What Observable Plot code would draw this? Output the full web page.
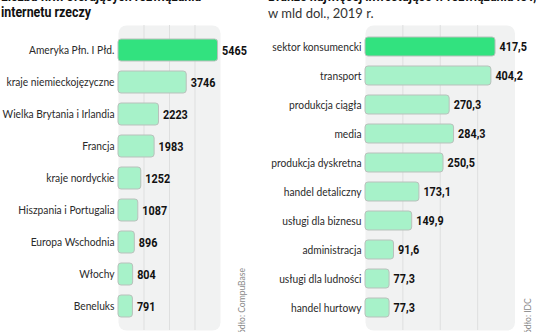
<!DOCTYPE html>
<html><head><meta charset="utf-8">
<script src="https://cdn.jsdelivr.net/npm/d3@7"></script>
<script src="https://cdn.jsdelivr.net/npm/@observablehq/plot@0.6"></script>
<style>
html,body{margin:0;padding:0;background:#fff;}
#wrap{position:relative;width:536px;height:332px;overflow:hidden;background:#fff;}
.t{position:absolute;white-space:nowrap;color:#111;}
.bold{font-family:Roboto,sans-serif;font-weight:bold;font-size:15.5px;line-height:16px;transform-origin:0 0;transform:scaleX(0.8);}
.sub{font-family:Lato,sans-serif;font-size:13px;color:#333;}
.src{position:absolute;font-family:Lato,sans-serif;font-size:8.5px;color:#8a8a8a;transform-origin:0 0;transform:rotate(-90deg);white-space:nowrap;}
.p{position:absolute;top:0;}
</style></head>
<body><div id="wrap">
<div class="t bold" style="left:1px;top:-12px;">Liczba firm oferujących rozwiązania<br>internetu rzeczy</div>
<div class="t bold" style="left:268px;top:-12px;">Branże najwięcej inwestujące w rozwiązania IoT,</div>
<div class="t sub" style="left:268px;top:5px;">w mld dol., 2019 r.</div>
<div class="src" style="left:237px;top:342px;">Źródło: CompuBase</div>
<div class="src" style="left:523px;top:342px;">Źródło: IDC</div>
<div id="left" class="p" style="left:0px;"></div>
<div id="right" class="p" style="left:266px;"></div>
</div>
<script>
const regions = ["Ameryka Płn. I Płd.", "kraje niemieckojęzyczne", "Wielka Brytania i Irlandia", "Francja", "kraje nordyckie", "Hiszpania i Portugalia", "Europa Wschodnia", "Włochy", "Beneluks"];
const firms = [5465, 3746, 2223, 1983, 1252, 1087, 896, 804, 791];
const sectors = ["sektor konsumencki", "transport", "produkcja ciągła", "media", "produkcja dyskretna", "handel detaliczny", "usługi dla biznesu", "administracja", "usługi dla ludności", "handel hurtowy"];
const invest = [417.5, 404.2, 270.3, 284.3, 250.5, 173.1, 149.9, 91.6, 77.3, 77.3];
const leftGrid = [1400, 2800, 4200];
const rightGrid = [120, 240, 360];

const leftData = regions.map((c, i) => ({c, v: firms[i], top: i === 0}));
const rightData = sectors.map((c, i) => ({c, v: invest[i], top: i === 0}));

function panel(data, opts) {
  return Plot.plot({
    width: opts.width, height: 332,
    marginLeft: opts.ml, marginRight: opts.mr, marginTop: 25, marginBottom: 2,
    style: {fontFamily: "Lato, sans-serif", background: "transparent", overflow: "visible"},
    x: {domain: opts.domain, axis: null},
    y: {domain: data.map(d => d.c), padding: opts.pad, axis: null},
    marks: [
      Plot.frame({fill: "#f1f2f2", rx: 8}),
      Plot.ruleX(opts.grid, {stroke: "#dedfdf", strokeWidth: 1}),
      Plot.barX(data, {y: "c", x: "v", fill: d => d.top ? "#32e27f" : "#a7f2c9", stroke: "#b9c1bc", strokeWidth: 1, rx: 3}),
      Plot.axisY({tickSize: 0, tickPadding: 4, fontSize: 11, color: "#2a2a2a", label: null}),
      Plot.text(data, {y: "c", x: "v", text: d => opts.fmt(d.v), dx: 4, textAnchor: "start",
        fontFamily: "Roboto, sans-serif", fontWeight: "bold", fontSize: 13.5, fill: "#111", className: "val"})
    ]
  });
}

function condense(svg, selector, factor) {
  svg.querySelectorAll(selector).forEach(t => {
    const len = t.getComputedTextLength();
    t.setAttribute("textLength", (len * factor).toFixed(2));
    t.setAttribute("lengthAdjust", "spacingAndGlyphs");
  });
}

const L = panel(leftData, {width: 270, ml: 118, mr: 50, domain: [0, 5600], pad: 0.32, grid: leftGrid, fmt: v => String(v)});
document.getElementById("left").append(L);
condense(L, ".val text", 0.8);
condense(L, "[aria-label='y-axis tick label'] text", 0.93);
const R = panel(rightData, {width: 270, ml: 99, mr: 21.5, domain: [0, 480], pad: 0.34, grid: rightGrid, fmt: v => v.toFixed(1).replace(".", ",")});
document.getElementById("right").append(R);
condense(R, ".val text", 0.8);
condense(R, "[aria-label='y-axis tick label'] text", 0.93);
</script>
</body></html>
